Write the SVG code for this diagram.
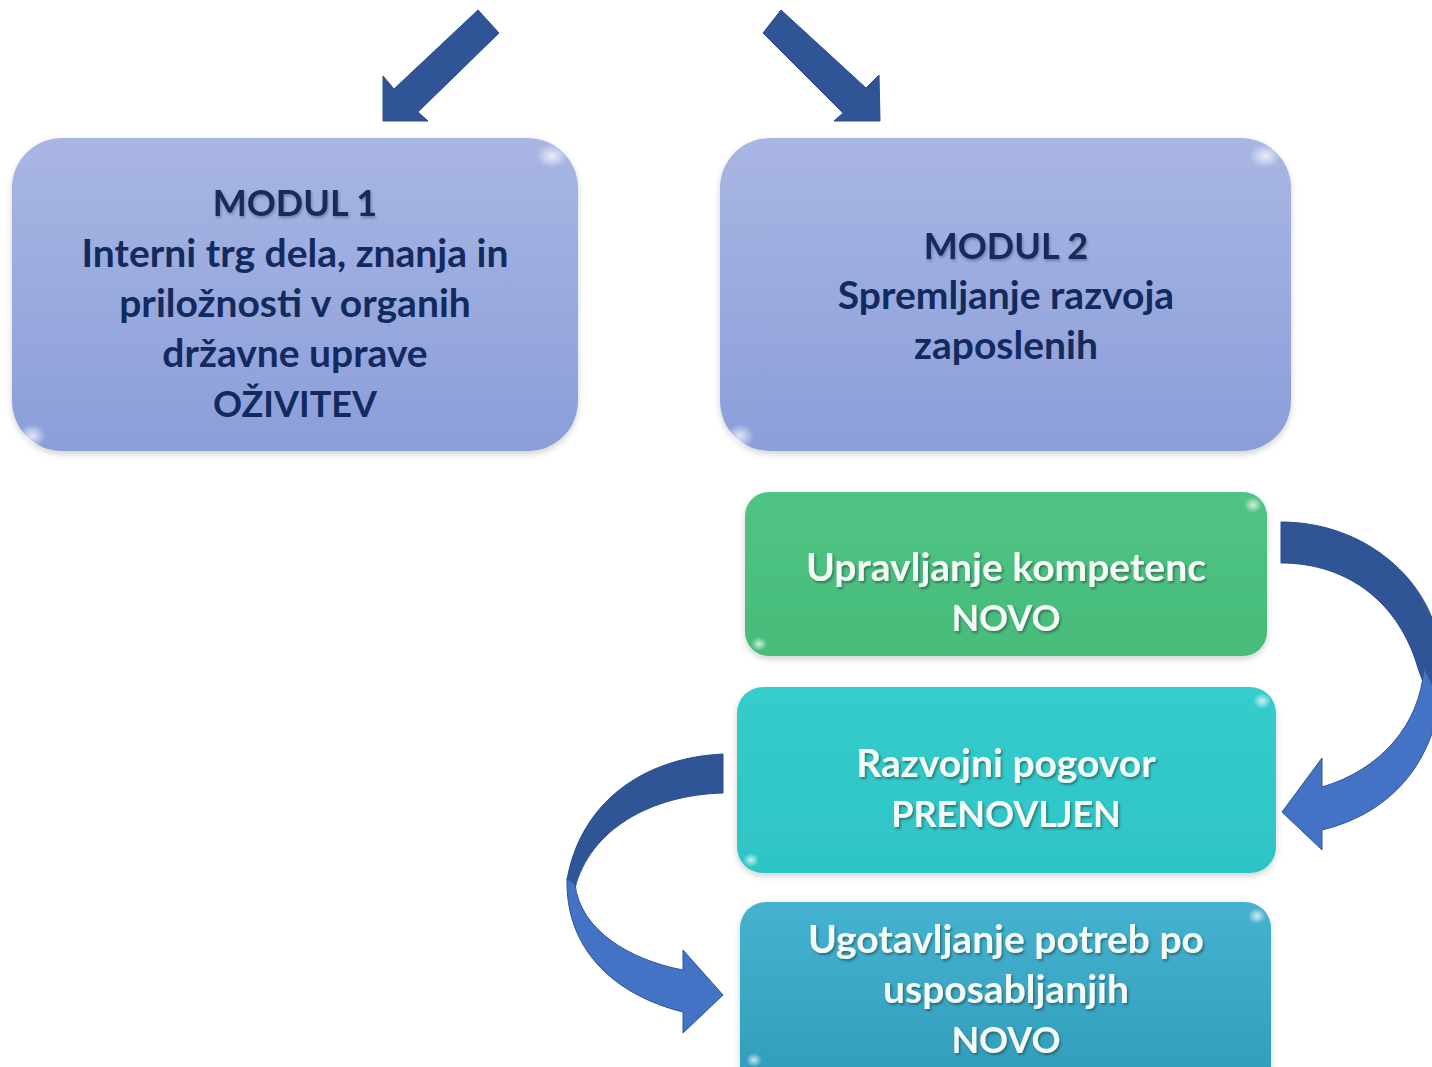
<svg xmlns="http://www.w3.org/2000/svg" width="1432" height="1067" viewBox="0 0 1432 1067">
<defs>
<linearGradient id="gLav" x1="0" y1="0" x2="0" y2="1"><stop offset="0" stop-color="#a9b6e3"/><stop offset="1" stop-color="#8a9ed9"/></linearGradient>
<linearGradient id="gGreen" x1="0" y1="0" x2="0" y2="1"><stop offset="0" stop-color="#50c484"/><stop offset="1" stop-color="#47bc79"/></linearGradient>
<linearGradient id="gTeal" x1="0" y1="0" x2="0" y2="1"><stop offset="0" stop-color="#36cccb"/><stop offset="1" stop-color="#2ec4c6"/></linearGradient>
<linearGradient id="gBlue" x1="0" y1="0" x2="0" y2="1"><stop offset="0" stop-color="#45b2d0"/><stop offset="1" stop-color="#2f9cb9"/></linearGradient>
<radialGradient id="glare"><stop offset="0" stop-color="#ffffff" stop-opacity="0.75"/><stop offset="1" stop-color="#ffffff" stop-opacity="0"/></radialGradient>
<filter id="boxSh" x="-10%" y="-10%" width="120%" height="130%"><feDropShadow dx="0" dy="3" stdDeviation="3" flood-color="#000" flood-opacity="0.18"/></filter>
<filter id="txtSh" x="-5%" y="-20%" width="110%" height="150%"><feDropShadow dx="1.5" dy="2" stdDeviation="1.2" flood-color="#1b3a3a" flood-opacity="0.55"/></filter>
<filter id="txtShD" x="-5%" y="-20%" width="110%" height="150%"><feDropShadow dx="1" dy="2" stdDeviation="1.5" flood-color="#000" flood-opacity="0.3"/></filter>
</defs>
<style>
.dk{font-family:Lato,"Open Sans","Liberation Sans",sans-serif;font-weight:700;font-size:39px;fill:#132a5e;text-anchor:middle}
.wt{font-family:Lato,"Open Sans","Liberation Sans",sans-serif;font-weight:700;font-size:39px;fill:#f4fbf6;text-anchor:middle}
.cp{font-size:36px}
.arD{fill:#2f5597;stroke:#2a4d8a;stroke-width:1}
.arL{fill:#4472c4;stroke:#2f5597;stroke-width:1}
.gl{fill:url(#glare)}
</style>
<rect width="1432" height="1067" fill="#ffffff"/>

<g id="connectors">
<polygon class="arD" points="478,10 499,33 418,112 428,121 383,121 383,76 394,89"/>
<polygon class="arD" points="781,10 763,33 843,113 834,121 880,121 879,75 866,88"/>
<path class="arD" d="M1281,522 C1365,522 1432,580 1440,650 L1440,720 C1430,700 1422,680 1418,668 C1400,605 1350,563 1281,563 Z"/>
<path class="arL" d="M1440,700 C1430,770 1385,815 1322,830 L1322,850 L1282,812 L1322,758 L1322,787 C1380,770 1420,725 1424,668 Z"/>
<path class="arD" d="M723,754 C640,758 580,805 567,880 L575,888 C590,830 650,795 723,793 Z"/>
<path class="arL" d="M567,878 C565,950 615,995 683,1012 L683,1033 L723,995 L683,950 L683,970 C630,960 580,930 575,884 Z"/>
</g>

<g id="modul1">
<rect x="12" y="138" width="566" height="313" rx="50" fill="url(#gLav)" filter="url(#boxSh)"/>
<ellipse class="gl" cx="552" cy="156" rx="16" ry="12"/>
<ellipse class="gl" cx="32" cy="436" rx="14" ry="12"/>
<text class="dk cp" filter="url(#txtShD)" x="295" y="216">MODUL 1</text>
<text class="dk" x="295" y="267">Interni trg dela, znanja in</text>
<text class="dk" x="295" y="317">priložnosti v organih</text>
<text class="dk" x="295" y="367">državne uprave</text>
<text class="dk cp" x="295" y="417">OŽIVITEV</text>
</g>

<g id="modul2">
<rect x="720" y="138" width="571" height="313" rx="50" fill="url(#gLav)" filter="url(#boxSh)"/>
<ellipse class="gl" cx="1265" cy="156" rx="16" ry="12"/>
<ellipse class="gl" cx="740" cy="436" rx="14" ry="12"/>
<text class="dk cp" filter="url(#txtShD)" x="1006" y="259">MODUL 2</text>
<text class="dk" x="1006" y="309">Spremljanje razvoja</text>
<text class="dk" x="1006" y="359">zaposlenih</text>
</g>

<g id="kompetence">
<rect x="745" y="492" width="522" height="164" rx="24" fill="url(#gGreen)" filter="url(#boxSh)"/>
<ellipse class="gl" cx="1253" cy="505" rx="9" ry="8"/>
<ellipse class="gl" cx="759" cy="644" rx="8" ry="7"/>
<text class="wt" filter="url(#txtSh)" x="1006" y="581">Upravljanje kompetenc</text>
<text class="wt cp" filter="url(#txtSh)" x="1006" y="631">NOVO</text>
</g>

<g id="pogovor">
<rect x="737" y="687" width="539" height="186" rx="26" fill="url(#gTeal)" filter="url(#boxSh)"/>
<ellipse class="gl" cx="1262" cy="701" rx="9" ry="8"/>
<ellipse class="gl" cx="751" cy="860" rx="8" ry="7"/>
<text class="wt" filter="url(#txtSh)" x="1006" y="777">Razvojni pogovor</text>
<text class="wt cp" filter="url(#txtSh)" x="1006" y="827">PRENOVLJEN</text>
</g>

<g id="potrebe">
<rect x="740" y="902" width="531" height="190" rx="26" fill="url(#gBlue)" filter="url(#boxSh)"/>
<ellipse class="gl" cx="1257" cy="916" rx="9" ry="8"/>
<ellipse class="gl" cx="754" cy="1060" rx="8" ry="7"/>
<text class="wt" filter="url(#txtSh)" x="1006" y="953">Ugotavljanje potreb po</text>
<text class="wt" filter="url(#txtSh)" x="1006" y="1003">usposabljanjih</text>
<text class="wt cp" filter="url(#txtSh)" x="1006" y="1053">NOVO</text>
</g>
</svg>
